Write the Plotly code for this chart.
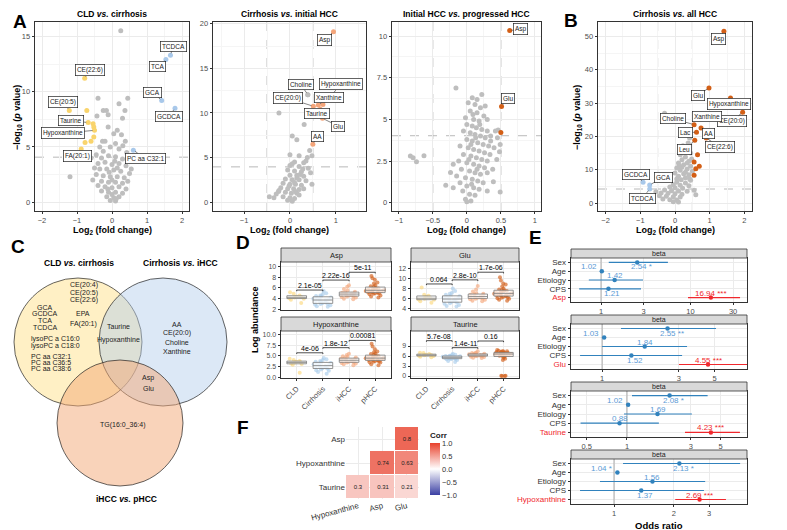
import math
import numpy as np
import plotly.graph_objects as go

W, H = 787, 530
FONT = "Liberation Sans, Arial, sans-serif"
TXT = "#4D4D4D"
DARK = "#1A1A1A"

# ======================= DATA =======================
# ---- A1: CLD vs. cirrhosis (log2FC, -log10 p) ----
a1_gray = [(0.25,15.5),(-0.4,9.4),(0.45,9.4),(0.2,8.9),(-0.25,8.3),(-0.16,8.3),(0.37,8.3),(-0.11,7.9),
           (-0.43,7.8),(0.3,7.6),(-0.11,6.8),(0.05,6.2),(0.27,6.1),(0.15,6.5),(-0.27,5.5),(-0.2,5.5),
           (0.38,5.5),(0.31,5.1),(-0.35,5.0),(0.1,5.3),(-1.2,2.3),(0.2,4.8),(-0.05,5.0),(0.42,4.5),
           (-0.45,4.3),(-0.3,4.0),(-0.1,4.2),(0.1,4.1),(0.3,3.9),(-0.4,3.5),(-0.2,3.6),(0.0,3.4),
           (0.2,3.5),(0.4,3.3),(-0.35,3.0),(-0.15,3.0),(0.05,2.9),(0.25,2.8),(0.5,2.6),(-0.45,2.5),
           (-0.25,2.4),(-0.05,2.3),(0.15,2.3),(0.35,2.2),(-0.3,1.9),(-0.1,1.8),(0.1,1.8),(0.3,1.7),
           (-0.2,1.4),(0.0,1.3),(0.2,1.4),(0.4,1.2),(-0.3,1.0),(-0.1,0.9),(0.1,0.9),(0.3,0.8),
           (-0.15,0.5),(0.05,0.4),(0.2,0.5),(-0.05,0.15),(0.1,0.1),(0.0,0.7),(-0.4,1.5),(0.45,1.9),
           (0.55,3.0),(-0.5,3.1),(-0.55,2.0),(0.15,3.1),(-0.25,4.6),(-0.6,4.0),(0.0,2.0),(-0.08,2.7),
           (0.08,3.7),(-0.12,1.2),(0.12,0.3)]
a1_down_names = ["CE(22:6)", "CE(20:5)", "", "Taurine", "", "", "Hypoxanthine", "", "", "", "FA(20:1)"]
a1_down_fc = [-0.78, -1.22, -0.72, -0.68, -0.54, -0.52, -0.5, -0.52, -0.6, -0.77, -0.88]
a1_down_p = [11.2, 8.3, 8.3, 7.2, 7.1, 6.8, 6.5, 5.9, 5.5, 5.4, 4.8]
a1_up_names = ["TCDCA", "TCA", "GCA", "GCDCA", "PC aa C32:1"]
a1_up_fc = [1.67, 1.54, 1.42, 1.8, 0.61]
a1_up_p = [13.3, 12.9, 9.2, 8.5, 4.7]
a1_fc_cut, a1_p_cut = 0.5, 4.07

# ---- A2: Cirrhosis vs. initial HCC ----
a2_gray = [(0.39,12.05),(-0.24,10.0),(0.31,8.7),(0.05,7.4),(0.15,7.0),(0.43,5.8),(0.48,5.2),(0.0,5.3),
           (0.2,5.2),(0.38,5.0),(0.1,4.5),(0.3,4.4),(0.35,4.6),(0.0,4.1),(0.2,4.0),(0.4,3.8),(-0.05,3.6),
           (0.1,3.5),(0.25,3.4),(0.45,3.3),(0.0,3.0),(0.15,3.0),(0.3,2.9),(-0.1,2.6),(0.05,2.5),(0.2,2.5),
           (0.35,2.4),(-0.15,2.1),(0.0,2.0),(0.12,2.0),(0.25,1.9),(-0.2,1.6),(-0.05,1.5),(0.08,1.5),
           (0.2,1.4),(-0.25,1.2),(-0.1,1.1),(0.03,1.0),(0.15,1.0),(-0.24,1.3),(-0.35,0.5),(-0.15,0.6),
           (0.0,0.5),(0.1,0.4),(-0.05,0.2),(0.05,0.1),(0.2,0.8),(-0.3,0.9),(0.3,1.5),(0.15,2.7),
           (0.28,3.7),(0.05,4.3),(0.48,2.0),(-0.45,0.6),(0.1,2.2),(0.22,3.1),(-0.02,1.8),(0.12,1.2)]
a2_gray_names = ["Choline"]
a2_gray_fc = [0.39]
a2_gray_p = [12.05]
a2_up_names = ["Asp", "Hypoxanthine", "Xanthine", "CE(20:0)", "Taurine", "Glu", "AA"]
a2_up_fc = [0.95, 0.72, 0.62, 0.51, 0.66, 0.71, 0.5]
a2_up_p = [19.1, 10.95, 10.9, 10.75, 10.4, 9.4, 6.5]
a2_fc_cut, a2_p_cut = 0.5, 3.95

# ---- A3: Initial HCC vs. progressed HCC ----
a3_gray = [(-0.16,6.88),(-0.83,2.8),(-0.79,2.7),(-0.74,2.46),(-0.63,2.82),(0.39,1.25),(0.49,0.64),
           (-0.31,1.04),(-0.24,1.81),(0.46,4.37),(0.42,4.3),(0.48,3.06),(0.49,3.5),(0.08,6.3),(0.15,6.2),
           (0.22,6.5),(0.02,6.0),(0.12,5.9),(0.2,5.7),(0.05,5.5),(0.15,5.4),(0.25,5.2),(0.3,5.0),
           (-0.02,5.1),(0.1,5.0),(0.18,4.9),(0.0,4.7),(0.08,4.6),(0.14,4.5),(0.22,4.4),(0.3,4.3),
           (0.35,4.0),(-0.05,4.3),(0.05,4.2),(0.12,4.1),(0.2,4.0),(0.27,3.9),(0.0,3.8),(0.08,3.7),
           (0.16,3.6),(0.24,3.5),(0.32,3.4),(0.4,3.3),(-0.1,3.4),(0.02,3.3),(0.1,3.2),(0.18,3.1),
           (0.26,3.0),(0.34,2.9),(-0.05,2.9),(0.06,2.8),(0.14,2.7),(0.22,2.6),(0.3,2.5),(-0.12,2.5),
           (0.0,2.4),(0.1,2.3),(0.18,2.2),(0.26,2.1),(-0.08,2.0),(0.04,1.9),(0.12,1.8),(0.2,1.7),
           (0.3,1.8),(-0.15,1.6),(-0.02,1.5),(0.08,1.4),(0.16,1.3),(0.24,1.2),(-0.1,1.2),(0.0,1.0),
           (0.1,0.9),(0.18,0.8),(-0.06,0.7),(0.04,0.5),(0.12,0.45),(-0.02,0.2),(0.06,0.1),(0.0,0.05),
           (-0.2,0.9),(0.3,0.7),(0.38,2.0),(0.44,2.6),(-0.2,2.3),(0.35,3.7),(0.45,3.9),(0.06,3.5),
           (0.13,3.9),(0.19,4.7),(0.09,5.3),(0.27,5.8),(0.03,2.6),(0.15,2.0),(0.07,1.1)]
a3_up_names = ["Asp", "Glu", ""]
a3_up_fc = [0.63, 0.51, 0.5]
a3_up_p = [10.34, 5.78, 4.22]
a3_fc_cut, a3_p_cut = 0.5, 4.02

# ---- B: Cirrhosis vs. all HCC ----
b_gray = [(-0.3,26.9),(0.29,21.0),(0.23,17.2),(0.38,18.0),(0.42,19.5),(0.35,16.0),(0.45,15.0),(0.15,14.5),
          (0.3,13.8),(0.48,13.2),(0.2,13.0),(0.4,12.5),(0.1,12.0),(0.25,11.5),(0.45,11.0),(0.05,10.5),
          (0.35,10.2),(0.15,9.8),(0.5,9.5),(0.0,9.0),(0.25,8.8),(0.4,8.5),(0.1,8.0),(0.3,7.6),(0.05,7.2),
          (0.18,7.0),(0.45,6.8),(0.05,6.2),(0.3,6.0),(-0.05,5.5),(0.15,5.3),(0.4,5.2),(-0.15,4.8),
          (0.0,4.6),(0.22,4.4),(-0.3,3.9),(-0.1,3.7),(0.1,3.6),(0.35,3.5),(-0.4,3.0),(-0.2,2.9),(0.0,2.8),
          (0.2,2.6),(-0.45,2.2),(-0.25,2.0),(-0.05,1.9),(0.15,1.8),(-0.35,1.2),(-0.15,1.0),(0.05,0.9),
          (-0.05,0.4),(0.1,0.3),(-0.55,3.4),(0.55,3.8),(0.6,2.5),(0.3,9.2),(0.2,10.8),(0.35,12.0),
          (0.42,7.3),(0.12,11.2)]
b_up_names = ["Asp", "Glu", "Hypoxanthine", "CE(20:0)", "Xanthine", "Choline", "AA", "Lac", "CE(22:6)",
              "Leu", "", "", "", "", ""]
b_up_fc = [1.41, 0.98, 1.6, 1.95, 0.62, 0.55, 0.75, 0.62, 0.9, 0.57, 0.55, 0.6, 0.55, 0.65, 0.7]
b_up_p = [51.5, 34.5, 31.5, 27.2, 25.5, 23.5, 22.5, 21.2, 19.5, 18.8, 12.3, 10.3, 8.3, 14.5, 11.0]
b_down_names = ["GCDCA", "GCA", "TCDCA"]
b_down_fc = [-0.92, -0.73, -0.73]
b_down_p = [6.2, 5.4, 4.2]
b_fc_cut, b_p_cut = 0.5, 4.2

# ---- C: Venn diagram ----
venn_sets = ["CLD <i>vs.</i> cirrhosis", "Cirrhosis <i>vs.</i> iHCC", "iHCC <i>vs.</i> pHCC"]
venn_only_cld_a = ["CE(20:4)", "CE(20:5)", "CE(22:6)"]
venn_only_cld_b = ["GCA", "GCDCA", "TCA", "TCDCA"]
venn_only_cld_c = ["EPA", "", "FA(20:1)"]
venn_only_cld_d = ["lysoPC a C16:0", "lysoPC a C18:0"]
venn_only_cld_e = ["PC aa C32:1", "PC aa C36:5", "PC aa C38:6"]
venn_cld_cirr = ["Taurine", "", "Hypoxanthine"]
venn_only_cirr = ["AA", "CE(20:0)", "Choline", "Xanthine"]
venn_cirr_phcc = ["Asp", "Glu"]
venn_only_phcc = ["TG(16:0_36:4)"]

# ---- D: log abundance by group ----
d_groups = ["CLD", "Cirrhosis", "iHCC", "pHCC"]
d_asp = {
    "CLD": [4.0,4.3,4.6,3.8,4.2,4.9,3.2,4.4,4.1,5.2],
    "Cirrhosis": [3.0,3.5,4.0,4.5,2.8,3.2,3.8,4.2,5.0,2.5,3.6,4.8,3.3,2.9,4.4,3.9,5.4,2.6,3.1,4.1,3.7,4.6],
    "iHCC": [4.2,4.6,4.9,5.2,4.4,4.8,5.5,4.0,5.0,4.7,5.8,4.3,5.3,4.5,6.2,3.9,4.9,5.1,4.6,6.5],
    "pHCC": [4.6,5.0,5.3,5.6,5.9,6.2,4.8,5.2,5.5,5.8,6.5,7.0,4.4,5.1,5.4,5.7,6.0,7.5,8.2,4.9,5.3,5.6,6.3,
             6.8,5.0,5.4,7.8,4.2,5.9,5.2]}
d_glu = {
    "CLD": [5.5,6.0,6.4,5.8,6.8,5.2,6.2,8.2,5.9,6.6],
    "Cirrhosis": [5.0,5.5,6.0,6.5,7.0,4.8,5.3,5.8,6.3,6.8,7.5,5.1,5.6,6.1,4.6,5.9,6.6,7.2,5.4,6.2,8.0,4.5],
    "iHCC": [5.8,6.2,6.6,7.0,6.0,6.4,6.8,7.4,5.5,6.3,7.8,6.1,6.7,8.5,5.9,6.5,7.1,6.9,6.2,5.6],
    "pHCC": [6.2,6.6,7.0,7.4,6.4,6.8,7.2,7.8,8.4,6.0,6.5,6.9,7.3,7.6,8.0,9.0,10.2,5.6,6.3,6.7,7.1,7.5,8.8,
             5.8,6.1,7.0,7.7,9.6,6.6,7.3]}
d_hyp = {
    "CLD": [3.2,3.6,4.0,3.4,2.9,3.8,1.0,3.5,4.3,3.1],
    "Cirrhosis": [1.5,2.0,2.5,3.0,3.5,4.0,1.8,2.3,2.8,3.3,3.8,4.5,1.2,2.6,3.1,0.8,2.1,3.6,2.4,4.2,1.6,2.9],
    "iHCC": [3.2,3.6,4.0,4.4,3.4,3.8,4.2,4.8,3.0,3.7,4.6,5.2,3.5,4.1,5.5,3.3,3.9,4.3,2.8,4.9],
    "pHCC": [3.6,4.0,4.4,4.8,3.8,4.2,4.6,5.0,5.4,3.4,3.9,4.3,4.7,5.2,5.8,6.5,7.2,3.0,3.7,4.1,4.5,4.9,6.0,
             2.8,3.5,4.4,5.6,7.8,4.0,4.6]}
d_tau = {
    "CLD": [6.0,6.3,6.6,5.8,6.2,6.9,5.6,6.4,6.1,7.0],
    "Cirrhosis": [5.2,5.5,5.8,6.1,5.0,5.4,5.7,6.0,6.4,4.8,5.3,5.6,5.9,6.3,4.5,5.1,5.6,6.7,5.2,5.8,4.2,6.0],
    "iHCC": [5.8,6.1,6.4,6.7,5.9,6.2,6.5,7.0,5.5,6.0,6.3,6.8,7.4,5.7,6.1,6.6,6.2,5.4,6.9,6.4],
    "pHCC": [6.2,6.6,7.0,7.4,6.4,6.8,7.2,6.0,6.5,6.9,7.3,7.6,5.8,6.3,6.7,7.1,7.8,5.5,6.1,6.6,7.0,5.2,6.8,
             7.5,0.0,0.1,0.0,0.05,4.8,7.2]}
d_sig_labels = {"Asp": ["2.1e-05", "2.22e-16", "5e-11"], "Glu": ["0.064", "2.8e-10", "1.7e-06"],
                "Hypoxanthine": ["4e-06", "1.8e-12", "0.00081"], "Taurine": ["5.7e-08", "1.4e-11", "0.16"]}
d_sig_heights = {"Asp": [5.6, 7.45, 8.9], "Glu": [8.9, 9.7, 11.2],
                 "Hypoxanthine": [5.7, 6.9, 8.6], "Taurine": [10.6, 8.5, 10.5]}

# ---- E: odds ratios ----
e_vars = ["Sex", "Age", "Etiology", "CPS"]
e_mets = ["Asp", "Glu", "Taurine", "Hypoxanthine"]
e_or = {"Asp": [2.54, 1.02, 1.42, 1.21, 16.94], "Glu": [2.55, 1.03, 1.84, 1.52, 4.55],
        "Taurine": [2.08, 1.02, 1.69, 0.88, 4.23], "Hypoxanthine": [2.13, 1.04, 1.56, 1.37, 2.69]}
e_lo = {"Asp": [1.22, 1.0, 0.73, 0.57, 9.4], "Glu": [1.31, 1.01, 1.0, 0.73, 3.0],
        "Taurine": [1.09, 1.0, 0.95, 0.45, 2.71], "Hypoxanthine": [1.11, 1.02, 0.85, 0.675, 2.03]}
e_hi = {"Asp": [5.6, 1.04, 2.95, 2.8, 35.9], "Glu": [5.1, 1.05, 3.37, 3.14, 8.2],
        "Taurine": [4.0, 1.04, 3.05, 1.73, 6.97], "Hypoxanthine": [4.3, 1.06, 2.87, 2.83, 3.65]}
e_sig = {"Asp": ["*", "", "", "", "***"], "Glu": ["**", "", "", "", "***"],
         "Taurine": ["*", "", "", "", "***"], "Hypoxanthine": ["*", "*", "", "", "***"]}
e_ticks = {"Asp": [1, 3, 10, 30], "Glu": [1, 3, 5], "Taurine": [0.5, 1, 3, 5], "Hypoxanthine": [1, 2, 3]}

# ---- F: correlation ----
f_x = ["Hypoxanthine", "Asp", "Glu"]
f_y = ["Taurine", "Hypoxanthine", "Asp"]
f_corr = [[0.3, 0.31, 0.21],
          [None, 0.74, 0.63],
          [None, None, 0.8]]

# ======================= LAYOUT HELPERS =======================
fig = go.Figure()
anns, shapes = [], []
_n = [0]


def px(x):
    return x / W


def py(y):
    return 1 - y / H


def new_axes(box, xa, ya):
    _n[0] += 1
    s = "" if _n[0] == 1 else str(_n[0])
    x0, x1, y0, y1 = box
    xa = dict(xa)
    ya = dict(ya)
    xa.update(domain=[px(x0), px(x1)], anchor="y" + s, automargin=False)
    ya.update(domain=[py(y1), py(y0)], anchor="x" + s, automargin=False)
    fig.update_layout(**{"xaxis" + s: xa, "yaxis" + s: ya})
    return "x" + s, "y" + s


def bw(**kw):
    d = dict(showline=True, mirror=True, linecolor="#333333", linewidth=0.8, showgrid=True,
             gridcolor="#EBEBEB", gridwidth=0.6, zeroline=False, ticks="outside", ticklen=2.5,
             tickcolor="#333333", tickwidth=0.6, tickfont=dict(size=7.5, color=TXT, family=FONT))
    d.update(kw)
    return d


def text(x, y, t, size=8, color=DARK, bold=False, angle=0, xanchor="center", yanchor="middle", **kw):
    if bold:
        t = "<b>" + t + "</b>"
    anns.append(dict(x=px(x), y=py(y), xref="paper", yref="paper", text=t, showarrow=False,
                     textangle=angle, xanchor=xanchor, yanchor=yanchor,
                     font=dict(size=size, color=color, family=FONT), **kw))


def letter(x, y, t):
    text(x, y, t, size=19, color="black", bold=True)


# ======================= VOLCANOES =======================
GRAY = "#BEBEBE"


def volcano(box, xr, yr, xdt, ydt, title, gray, groups, fc_cut, p_cut, offsets):
    xa, ya = new_axes(box,
                      bw(range=xr, dtick=xdt, minor=dict(dtick=xdt / 2, showgrid=True, gridcolor="#F5F5F5")),
                      bw(range=yr, dtick=ydt, minor=dict(dtick=ydt / 2, showgrid=True, gridcolor="#F5F5F5")))
    for v in (-fc_cut, fc_cut):
        shapes.append(dict(type="line", xref=xa, yref=ya + " domain", x0=v, x1=v, y0=0, y1=1,
                           line=dict(color="#B0B0B0", width=0.9, dash="dash"), layer="below"))
    shapes.append(dict(type="line", xref=xa + " domain", yref=ya, x0=0, x1=1, y0=p_cut, y1=p_cut,
                       line=dict(color="#B0B0B0", width=0.9, dash="dash"), layer="below"))
    fig.add_trace(go.Scatter(x=[g[0] for g in gray], y=[g[1] for g in gray], mode="markers",
                             marker=dict(color=GRAY, size=5), xaxis=xa, yaxis=ya, hoverinfo="skip"))
    for names, fc, p, col in groups:
        fig.add_trace(go.Scatter(x=fc, y=p, mode="markers", marker=dict(color=col, size=5),
                                 xaxis=xa, yaxis=ya, hoverinfo="skip"))
        for nm, xv, yv in zip(names, fc, p):
            if not nm:
                continue
            dx, dy = offsets.get(nm, (0, -8))
            anns.append(dict(x=xv, y=yv, xref=xa, yref=ya, text=nm, showarrow=True, ax=dx, ay=dy,
                             arrowhead=0, arrowwidth=0.6, arrowcolor="#333", standoff=2,
                             bgcolor="white", bordercolor="#222", borderwidth=0.7, borderpad=1.2,
                             font=dict(size=6.5, color="#222", family=FONT)))
    x0, x1, y0, y1 = box
    text((x0 + x1) / 2, 6, title, size=8.5, color="black", bold=True)
    text((x0 + x1) / 2, 222, "Log<sub>2</sub> (fold change)", size=9, color="black", bold=True)
    return xa, ya


YLAB = "\u2212log<sub>10</sub> (<i>p</i> value)"
YEL, BLU, LOR, DOR = "#F9D46C", "#A8C8EA", "#F4A57A", "#D35F16"

volcano((27, 181, 14, 203), [-2.2, 2.2], [-0.8, 16.3], 1, 5, "CLD <i>vs.</i> cirrhosis", a1_gray,
        [(a1_down_names, a1_down_fc, a1_down_p, YEL), (a1_up_names, a1_up_fc, a1_up_p, BLU)],
        a1_fc_cut, a1_p_cut,
        {"TCDCA": (3, -9), "TCA": (-8, 7), "GCA": (-9, -8), "GCDCA": (-6, 8), "CE(22:6)": (5, -8),
         "CE(20:5)": (-6, -8), "Taurine": (-17, -2), "Hypoxanthine": (-32, 3), "FA(20:1)": (-4, 7),
         "PC aa C32:1": (12, 8)})
text(10, 110, YLAB, size=9, color="black", bold=True, angle=-90)

volcano((205, 358, 14, 203), [-1.68, 1.66], [-1.0, 20.2], 1, 5, "Cirrhosis <i>vs.</i> initial HCC", a2_gray,
        [(a2_gray_names, a2_gray_fc, a2_gray_p, GRAY), (a2_up_names, a2_up_fc, a2_up_p, LOR)],
        a2_fc_cut, a2_p_cut,
        {"Asp": (-9, 8), "Choline": (-7, -10), "Hypoxanthine": (18, -20), "Xanthine": (11, -7),
         "CE(20:0)": (-25, -8), "Taurine": (-3, 4), "Glu": (16, 8), "AA": (5, -8)})

volcano((384, 533, 14, 203), [-1.1, 1.09], [-0.5, 10.85], 0.5, 2.5, "Initial HCC <i>vs.</i> progressed HCC",
        a3_gray, [(a3_up_names, a3_up_fc, a3_up_p, DOR)], a3_fc_cut, a3_p_cut,
        {"Asp": (11, -1), "Glu": (6, -8)})

volcano((590, 744, 14, 203), [-2.22, 2.22], [-2.4, 54.3], 1, 10, "Cirrhosis <i>vs.</i> all HCC", b_gray,
        [(b_down_names, b_down_fc, b_down_p, BLU), (b_up_names, b_up_fc, b_up_p, DOR)],
        b_fc_cut, b_p_cut,
        {"Asp": (-5, 8), "Glu": (-11, 7), "Hypoxanthine": (-2, 6), "Xanthine": (10, -2),
         "CE(20:0)": (-11, 9), "Choline": (-21, -6), "Lac": (-11, 0), "AA": (7, 5), "CE(22:6)": (14, 9),
         "Leu": (-10, 9), "GCDCA": (-7, -8), "GCA": (14, -8), "TCDCA": (-7, 9)})
text(570, 110, YLAB, size=9, color="black", bold=True, angle=-90)

letter(12, 14, "A")
letter(563, 13, "B")

# ======================= C: VENN =======================
circles = [((70, 334), 64, "rgba(255,226,140,0.5)"),
           ((155, 334), 64, "rgba(178,205,235,0.45)"),
           ((112, 415), 63, "rgba(243,168,118,0.5)")]
for (cx, cy), r, col in circles:
    shapes.append(dict(type="circle", xref="paper", yref="paper", x0=px(cx - r), x1=px(cx + r),
                       y0=py(cy + r), y1=py(cy - r), fillcolor=col, line=dict(color="#222", width=0.7)))
letter(10, 238, "C")
text(71, 255, venn_sets[0], size=8.5, color="black", bold=True)
text(172, 255, venn_sets[1], size=8.5, color="black", bold=True)
text(118, 491, venn_sets[2], size=8.5, color="black", bold=True)


def venn_block(items, x, y0, step):
    for i, it in enumerate(items):
        if it:
            text(x, y0 + i * step, it, size=7, color="#222")


venn_block(venn_only_cld_a, 76, 277, 7.5)
venn_block(venn_only_cld_b, 37, 299, 6.8)
venn_block(venn_only_cld_c, 75, 305, 5.5)
venn_block(venn_only_cld_d, 47, 331, 6.5)
venn_block(venn_only_cld_e, 43, 348, 6.2)
venn_block(venn_cld_cirr, 111, 318, 7.0)
venn_block(venn_only_cirr, 169, 316, 9.0)
venn_block(venn_cirr_phcc, 140, 370, 10.0)
venn_block(venn_only_phcc, 115, 417, 10.0)

# ======================= D: BOXPLOTS =======================
d_pt_col = {"CLD": "#FCD87E", "Cirrhosis": "#A9CCEB", "iHCC": "#F4A77C", "pHCC": "#D2601A"}
letter(235, 234, "D")
text(247, 312, "Log abundance", size=9, color="black", bold=True, angle=-90)


def dpanel(box, name, data, yr, tickvals, ticktext, show_x):
    x0, x1, y0, y1 = box
    xa, ya = new_axes(box,
                      bw(type="category", categoryorder="array", categoryarray=d_groups, range=[-0.6, 3.6],
                         showticklabels=show_x, tickangle=-45, ticks="outside" if show_x else "",
                         tickfont=dict(size=7.5, color=TXT, family=FONT)),
                      bw(range=yr, tickvals=tickvals, ticktext=ticktext,
                         tickfont=dict(size=7, color=TXT, family=FONT)))
    shapes.append(dict(type="rect", xref="paper", yref="paper", x0=px(x0), x1=px(x1), y0=py(y0),
                       y1=py(y0 - 14), fillcolor="#D9D9D9", line=dict(color="#333", width=0.8)))
    text((x0 + x1) / 2, y0 - 7, name, size=7.5, color=DARK)
    for g in d_groups:
        vals = data[g]
        fig.add_trace(go.Box(x=[g] * len(vals), y=vals, boxpoints="all", jitter=1, pointpos=0, width=0.75,
                             fillcolor="rgba(0,0,0,0)", line=dict(width=0, color="rgba(0,0,0,0)"),
                             marker=dict(color=d_pt_col[g], size=4, opacity=0.65),
                             xaxis=xa, yaxis=ya, hoverinfo="skip"))
    for g in d_groups:
        q1, med, q3 = np.percentile(data[g], [25, 50, 75])
        fig.add_trace(go.Box(x=[g], q1=[q1], median=[med], q3=[q3], lowerfence=[q1], upperfence=[q3],
                             boxpoints=False, width=0.75, whiskerwidth=0,
                             fillcolor="rgba(255,255,255,0.72)", line=dict(color="#7A7A7A", width=0.8),
                             xaxis=xa, yaxis=ya, hoverinfo="skip"))
    tip = 0.025 * (yr[1] - yr[0])
    for i, (lab, h) in enumerate(zip(d_sig_labels[name], d_sig_heights[name])):
        for (a, b, c, d) in [(i, h - tip, i, h), (i, h, i + 1, h), (i + 1, h, i + 1, h - tip)]:
            shapes.append(dict(type="line", xref=xa, yref=ya, x0=a, y0=b, x1=c, y1=d,
                               line=dict(color="black", width=0.7)))
        anns.append(dict(x=i + 0.5, y=h, xref=xa, yref=ya, text=lab, showarrow=False, yanchor="bottom",
                         yshift=-1, font=dict(size=7, color="black", family=FONT)))


dpanel((273, 383, 254, 302), "Asp", d_asp, [1.9, 10.8], [2, 4, 6, 8, 10], ["2", "4", "6", "8", "10"], False)
dpanel((403, 511, 254, 302), "Glu", d_glu, [3.8, 13.2], [4, 6, 8, 10, 12], ["4", "6", "8", "10", "12"], False)
dpanel((273, 383, 323, 370), "Hypoxanthine", d_hyp, [-0.2, 10.8], [0, 2.5, 5, 7.5, 10],
       ["0.0", "2.5", "5.0", "7.5", "10.0"], True)
dpanel((403, 511, 323, 370), "Taurine", d_tau, [-0.6, 13.5], [0, 3, 6, 9], ["0", "3", "6", "9"], True)

# ======================= E: ODDS RATIOS =======================
letter(527, 229, "E")
e_boxes = [(563, 739, 250, 294), (563, 739, 316, 361), (563, 739, 383, 429), (563, 739, 451, 496)]
e_xr = [[-0.336, 1.633], [-0.193, 0.90], [-0.418, 0.896], [-0.216, 0.668]]
e_sides = [["below", "left", "above", "below", "above"], ["below", "left", "above", "below", "above"],
           ["below", "left", "above", "above", "above"], ["below", "left", "above", "below", "above"]]
EBLUE, ELAB, ERED = "#3182BD", "#5B9BD5", "#F0282D"
for k, met in enumerate(e_mets):
    box = e_boxes[k]
    x0, x1, y0, y1 = box
    tv = e_ticks[met]
    xa, ya = new_axes(box,
                      bw(type="log", range=e_xr[k], tickvals=tv, ticktext=[str(t) for t in tv],
                         tickfont=dict(size=7.5, color=TXT, family=FONT)),
                      bw(range=[0.5, 5.5], tickvals=[5, 4, 3, 2, 1],
                         ticktext=e_vars + ["<span style='color:%s'>%s</span>" % (ERED, met)],
                         tickfont=dict(size=8, color="#333", family=FONT), showgrid=True))
    shapes.append(dict(type="rect", xref="paper", yref="paper", x0=px(x0), x1=px(x1), y0=py(y0),
                       y1=py(y0 - 9), fillcolor="#D9D9D9", line=dict(color="#333", width=0.8)))
    text((x0 + x1) / 2, y0 - 4.5, "beta", size=7, color=DARK)
    fig.add_trace(go.Scatter(x=[1, 1], y=[0.5, 5.5], mode="lines", line=dict(color="#AAAAAA", width=1),
                             xaxis=xa, yaxis=ya, hoverinfo="skip"))
    rows = [5, 4, 3, 2, 1]
    ors, los, his = e_or[met], e_lo[met], e_hi[met]
    for sel, col in ((range(0, 4), EBLUE), (range(4, 5), ERED)):
        lx, ly = [], []
        for i in sel:
            lx += [los[i], his[i], None]
            ly += [rows[i], rows[i], None]
        fig.add_trace(go.Scatter(x=lx, y=ly, mode="lines", line=dict(color=col, width=1.2),
                                 xaxis=xa, yaxis=ya, hoverinfo="skip"))
        fig.add_trace(go.Scatter(x=[ors[i] for i in sel], y=[rows[i] for i in sel], mode="markers",
                                 marker=dict(color=col, size=4.5), xaxis=xa, yaxis=ya, hoverinfo="skip"))
    for i in range(5):
        lab = ("%.2f" % ors[i]) + ((" " + e_sig[met][i]) if e_sig[met][i] else "")
        side = e_sides[k][i]
        col = ERED if i == 4 else ELAB
        a = dict(x=math.log10(ors[i]), xref=xa, yref=ya, text=lab, showarrow=False,
                 font=dict(size=8, color=col, family=FONT))
        if side == "below":
            a.update(y=rows[i] - 0.5, xanchor="center", xshift=4)
        elif side == "above":
            a.update(y=rows[i] + 0.5, xanchor="center")
        else:
            a.update(y=rows[i] + 0.5, xanchor="right", xshift=-3)
        anns.append(a)
text(651, 517, "Odds ratio", size=9.5, color="black", bold=True)

# ======================= F: CORRELATION =======================
letter(235, 419, "F")
xa, ya = new_axes((338, 411, 419, 491),
                  dict(type="category", categoryorder="array", categoryarray=f_x, showgrid=True,
                       gridcolor="#EBEBEB", zeroline=False, showline=False, tickangle=-15, ticks="",
                       tickfont=dict(size=8, color="#333", family=FONT)),
                  dict(type="category", categoryorder="array", categoryarray=f_y, showgrid=True,
                       gridcolor="#EBEBEB", zeroline=False, showline=False, ticks="",
                       tickfont=dict(size=8, color="#333", family=FONT)))
fig.add_trace(go.Heatmap(x=f_x, y=f_y, z=f_corr, zmin=-1, zmax=1, xgap=1, ygap=1,
                         colorscale=[[0, "#3B3FA3"], [0.5, "#FFFFFF"], [1, "#E8412C"]],
                         texttemplate="%{z}", textfont=dict(size=6, color="#222", family=FONT),
                         xaxis=xa, yaxis=ya, hoverinfo="skip",
                         colorbar=dict(x=px(422), xanchor="left", y=py(421), yanchor="top",
                                       len=66, lenmode="pixels", thickness=10, thicknessmode="pixels",
                                       ypad=0, xpad=0, outlinewidth=0, ticks="",
                                       tickvals=[-1, -0.5, 0, 0.5, 1],
                                       ticktext=["\u22121.0", "\u22120.5", "0.0", "0.5", "1.0"],
                                       tickfont=dict(size=7.5, color="#333", family=FONT),
                                       title=dict(text="<b>Corr</b>", side="top",
                                                  font=dict(size=8, color="#222", family=FONT)))))

fig.update_layout(width=W, height=H, margin=dict(l=0, r=0, t=0, b=0, autoexpand=False),
                  paper_bgcolor="white", plot_bgcolor="white", showlegend=False, boxmode="overlay",
                  font=dict(family=FONT, color=DARK), annotations=anns, shapes=shapes)
fig.write_html("out.html")
